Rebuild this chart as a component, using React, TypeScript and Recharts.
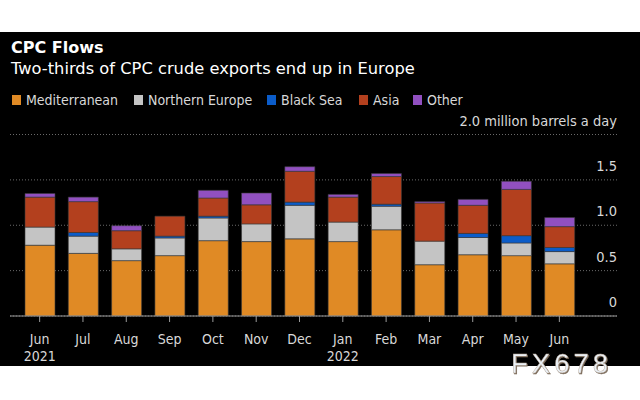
import { Bar, BarChart, CartesianGrid, XAxis, YAxis } from "recharts";

const months = ['Jun', 'Jul', 'Aug', 'Sep', 'Oct', 'Nov', 'Dec', 'Jan', 'Feb', 'Mar', 'Apr', 'May', 'Jun'];
const years = ['2021', '', '', '', '', '', '', '2022', '', '', '', '', ''];

// million barrels a day
const mediterranean = [0.78, 0.69, 0.61, 0.665, 0.83, 0.82, 0.85, 0.82, 0.95, 0.565, 0.675, 0.665, 0.575];
const northernEurope = [0.2, 0.19, 0.13, 0.195, 0.25, 0.195, 0.37, 0.215, 0.26, 0.26, 0.19, 0.14, 0.135];
const blackSea = [0, 0.04, 0, 0.02, 0.02, 0, 0.035, 0, 0.022, 0, 0.045, 0.08, 0.045];
const asia = [0.33, 0.34, 0.2, 0.22, 0.2, 0.21, 0.34, 0.275, 0.305, 0.42, 0.31, 0.51, 0.23];
const other = [0.04, 0.05, 0.055, 0, 0.085, 0.13, 0.05, 0.03, 0.033, 0.015, 0.065, 0.09, 0.1];

const yTicks = [0, 0.5, 1, 1.5, 2];

const SERIES = [
    { key: 'med', name: 'Mediterranean', color: '#e08a25' },
    { key: 'ne', name: 'Northern Europe', color: '#c4c4c4' },
    { key: 'bs', name: 'Black Sea', color: '#0b5cc9' },
    { key: 'asia', name: 'Asia', color: '#b3401e' },
    { key: 'other', name: 'Other', color: '#9150c0' },
];

const data = months.map((m, i) => ({
    idx: i,
    med: mediterranean[i],
    ne: northernEurope[i],
    bs: blackSea[i],
    asia: asia[i],
    other: other[i],
}));

const FONT = "'DejaVu Sans Condensed', 'DejaVu Sans', sans-serif";
const FONT_WIDE = "'DejaVu Sans', sans-serif";
const TEXT = '#d8d8d8';
const cond = { fontStretch: 'condensed' };

const XTick = ({ x, y, payload }: any) => (
    <g>
        <text x={x} y={y + 20} textAnchor="middle" fill={TEXT} fontSize={14} fontFamily={FONT} style={cond}>
            {months[payload.value]}
        </text>
        {years[payload.value] && (
            <text x={x} y={y + 37} textAnchor="middle" fill={TEXT} fontSize={14} fontFamily={FONT} style={cond}>
                {years[payload.value]}
            </text>
        )}
    </g>
);

const YTick = ({ y, payload }: any) => {
    const v = payload.value;
    const label = v === 2 ? '2.0 million barrels a day' : v === 0 ? '0' : v.toFixed(1);
    return (
        <text x={617} y={y - 9} textAnchor="end" fill={TEXT} fontSize={14.5} fontFamily={FONT} style={cond}>
            {label}
        </text>
    );
};

const legendPos = [12, 134, 267, 359, 413];

export default function App() {
    return (
        <div style={{ position: 'absolute', left: 0, top: 0, width: 640, height: 400, background: '#fff', overflow: 'hidden' }}>
            <div style={{ position: 'absolute', left: 0, top: 32, width: 640, height: 334, background: '#000' }} />
            <svg width={640} height={120} style={{ position: 'absolute', left: 0, top: 0 }}>
                <text x={11} y={53} fill="#fff" fontSize={16} fontWeight="bold" fontFamily={FONT_WIDE}>
                    CPC Flows
                </text>
                <text x={11} y={73.5} fill="#fff" fontSize={16.3} fontFamily={FONT_WIDE}>
                    Two-thirds of CPC crude exports end up in Europe
                </text>
                {SERIES.map((s, i) => (
                    <g key={s.key}>
                        <rect x={legendPos[i]} y={95} width={9} height={10} fill={s.color} />
                        <text x={legendPos[i] + 14} y={105} fill={TEXT} fontSize={14} fontFamily={FONT} style={cond}>
                            {s.name}
                        </text>
                    </g>
                ))}
            </svg>
            <div style={{ position: 'absolute', left: 0, top: 0 }}>
                <BarChart width={640} height={400} data={data} margin={{ top: 134.5, right: 22, bottom: 0, left: 10 }} barSize={30}>
                    <CartesianGrid horizontal vertical={false} stroke="#6a6a6a" strokeDasharray="1 2" />
                    <XAxis
                        dataKey="idx"
                        type="category"
                        padding={{ left: 8, right: 36 }}
                        axisLine={{ stroke: '#9a9a9a' }}
                        tickLine={{ stroke: '#9a9a9a' }}
                        tickSize={6}
                        tick={<XTick />}
                        interval={0}
                        height={84}
                    />
                    <YAxis
                        orientation="right"
                        domain={[0, 2]}
                        ticks={yTicks}
                        width={1}
                        axisLine={false}
                        tickLine={false}
                        tick={<YTick />}
                        interval={0}
                    />
                    {SERIES.map((s) => (
                        <Bar key={s.key} dataKey={s.key} stackId="a" fill={s.color} stroke="#3a3a3a" strokeWidth={0.6} isAnimationActive={false} />
                    ))}
                </BarChart>
            </div>
            <svg width={640} height={400} style={{ position: 'absolute', left: 0, top: 0, pointerEvents: 'none' }}>
                <text
                    x={511}
                    y={373}
                    fontFamily="'Liberation Sans', Arial, sans-serif"
                    fontSize={27.5}
                    letterSpacing={4}
                    fill="#eaf0f6"
                    stroke="#b8a898"
                    strokeWidth={0.4}
                    style={{ filter: 'drop-shadow(1px 1px 0.5px #7a6a5a)' }}
                >
                    FX678
                </text>
            </svg>
        </div>
    );
}
